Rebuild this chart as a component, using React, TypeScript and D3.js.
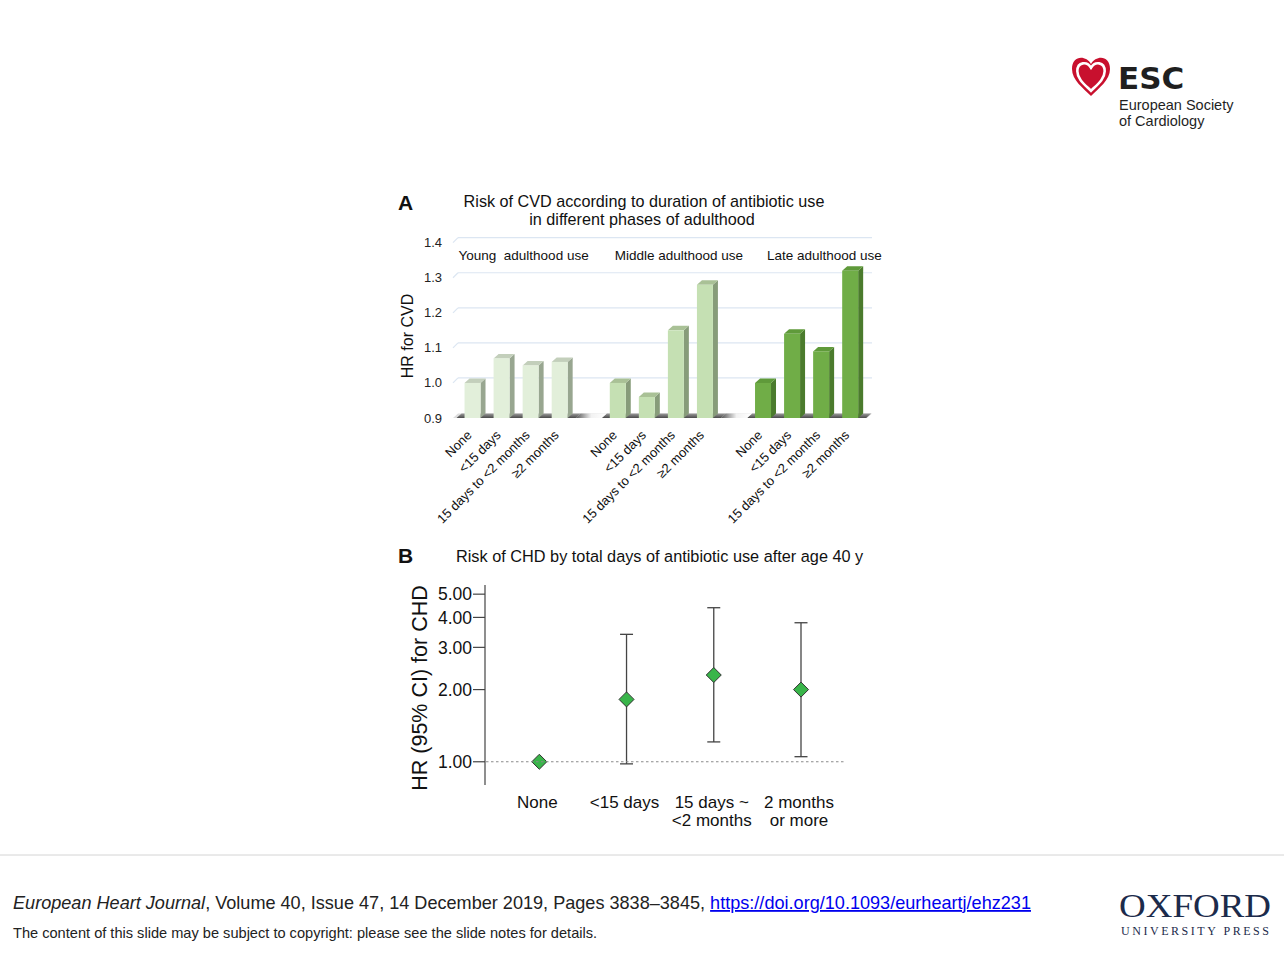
import React from "react";
import * as d3 from "d3";

// ---------- Panel A data ----------
const phases = ["Young  adulthood use", "Middle adulthood use", "Late adulthood use"];
const durationsA = ["None", "<15 days", "15 days to <2 months", "≥2 months"];
const youngHR = [1.0, 1.07, 1.05, 1.06];
const middleHR = [1.0, 0.96, 1.15, 1.28];
const lateHR = [1.0, 1.14, 1.09, 1.32];
const ticksA = [0.9, 1.0, 1.1, 1.2, 1.3, 1.4];

// ---------- Panel B data ----------
const categoriesB = ["None", "<15 days", "15 days ~|<2 months", "2 months|or more"];
const hrB = [1.0, 1.82, 2.3, 2.0];
const lowerB = [1.0, 0.98, 1.21, 1.05];
const upperB = [1.0, 3.4, 4.39, 3.8];
const ticksB = [1, 2, 3, 4, 5];

const FONT = "'Liberation Sans', Arial, Helvetica, sans-serif";
const SERIF = "'Liberation Serif', 'DejaVu Serif', serif";

const palette = [
  { front: "#e2efda", side: "#98a690", top: "#c3cfbb" },
  { front: "#c5e0b3", side: "#879c7a", top: "#a9c196" },
  { front: "#70ad47", side: "#4b7b2d", top: "#5f9a3a" },
];
// horizontal offset of each phase label from its group's first bar
const phaseLabelOffset = [-6, 5, 12];

export default function App() {
  const seriesA = [youngHR, middleHR, lateHR];

  // Panel A scales
  const slots = d3.range(14);
  const xA = d3.scaleBand<number>().domain(slots).range([458, 864.7]).paddingInner(0.45).paddingOuter(0.225);
  const yA = d3.scaleLinear().domain([0.9, 1.4]).range([418, 242.7]);
  const bw = xA.bandwidth();
  const dx = 5;
  const dy = -4.5;
  const base = yA(0.9);

  // Panel B scales
  const xB = d3.scalePoint<string>().domain(categoriesB).range([539.3, 801]);
  const yB = d3.scaleLog().domain([0.8, 5.46]).range([785, 585]);
  const diamond = (cx: number, cy: number, r: number) =>
    `M${cx},${cy - r}L${cx + r},${cy}L${cx},${cy + r}L${cx - r},${cy}Z`;

  const heartPath = (cx: number, top: number, s: number) => {
    const p = d3.path();
    p.moveTo(cx, top + 8 * s);
    p.bezierCurveTo(cx - 5 * s, top - 1 * s, cx - 19 * s, top - 1 * s, cx - 19 * s, top + 13 * s);
    p.bezierCurveTo(cx - 19 * s, top + 24 * s, cx - 8 * s, top + 32 * s, cx, top + 40 * s);
    p.bezierCurveTo(cx + 8 * s, top + 32 * s, cx + 19 * s, top + 24 * s, cx + 19 * s, top + 13 * s);
    p.bezierCurveTo(cx + 19 * s, top - 1 * s, cx + 5 * s, top - 1 * s, cx, top + 8 * s);
    p.closePath();
    return p.toString();
  };

  return (
    <svg
      width={1284}
      height={953}
      style={{ position: "absolute", left: 0, top: 0, background: "#ffffff" }}
      fontFamily={FONT}
    >
      <defs>
        <linearGradient id="floorGrad" x1="0" y1="0" x2="0" y2="1">
          <stop offset="0" stopColor="#9a9a9a" />
          <stop offset="1" stopColor="#4a4a4a" />
        </linearGradient>
        <linearGradient id="gapGrad" x1="0" y1="0" x2="1" y2="0">
          <stop offset="0" stopColor="#555" />
          <stop offset="0.5" stopColor="#f2f2f2" />
          <stop offset="1" stopColor="#ffffff" />
        </linearGradient>
      </defs>

      {/* ---------- ESC logo ---------- */}
      <path d={heartPath(1091, 56, 1)} fill="#c8102e" />
      <path d={heartPath(1091, 62, 0.72)} fill="none" stroke="#ffffff" strokeWidth={2.6} />
      <path d={heartPath(1091, 66, 0.55)} fill="#c8102e" />
      <text x={1118} y={89} fontSize={31} fontWeight="bold" fill="#1f1f1f" fontFamily="'DejaVu Sans', 'Liberation Sans', sans-serif">
        ESC
      </text>
      <text x={1119} y={110} fontSize={14.5} fill="#1f1f1f">European Society</text>
      <text x={1119} y={126} fontSize={14.5} fill="#1f1f1f">of Cardiology</text>

      {/* ---------- Panel A ---------- */}
      <text x={398} y={210} fontSize={21} fontWeight="bold" fill="#111">A</text>
      <text x={644} y={207} fontSize={16.2} textAnchor="middle" fill="#111">
        Risk of CVD according to duration of antibiotic use
      </text>
      <text x={642} y={225} fontSize={16.2} textAnchor="middle" fill="#111">
        in different phases of adulthood
      </text>

      {/* gridlines on back wall */}
      {ticksA.slice(1).map((t) => (
        <g key={"g" + t}>
          <line x1={458} x2={872} y1={yA(t) - 5} y2={yA(t) - 5} stroke="#dce6f2" strokeWidth={1.2} />
          <line x1={458} x2={453} y1={yA(t) - 5} y2={yA(t)} stroke="#dce6f2" strokeWidth={1.2} />
        </g>
      ))}
      {ticksA.map((t) => (
        <text key={"t" + t} x={442} y={yA(t)} dy="0.35em" fontSize={13} textAnchor="end" fill="#222">
          {t.toFixed(1)}
        </text>
      ))}
      <text transform={`translate(413,336) rotate(-90)`} fontSize={16} textAnchor="middle" fill="#111">
        HR for CVD
      </text>

      {/* floor */}
      <path d={`M${453},${base}L${867},${base}L${872},${base + dy}L${458},${base + dy}Z`} fill="#dcdcdc" />
      {phases.map((ph, g) => {
        const x0 = xA(g * 5)! - 8;
        const x1 = xA(g * 5 + 3)! + bw + 8;
        return (
          <path
            key={"fl" + g}
            d={`M${x0},${base}L${x1},${base}L${x1 + dx},${base + dy}L${x0 + dx},${base + dy}Z`}
            fill="url(#floorGrad)"
          />
        );
      })}
      {[0, 1].map((g) => {
        const x0 = xA(g * 5 + 3)! + bw + 8;
        const x1 = xA(g * 5 + 5)! - 8;
        return (
          <path
            key={"gap" + g}
            d={`M${x0},${base}L${x1},${base}L${x1 + dx},${base + dy}L${x0 + dx},${base + dy}Z`}
            fill="url(#gapGrad)"
          />
        );
      })}

      {/* bars */}
      {seriesA.map((vals, g) =>
        vals.map((v, i) => {
          const x = xA(g * 5 + i)!;
          const yt = yA(v);
          const c = palette[g];
          return (
            <g key={`b${g}-${i}`}>
              <path
                d={`M${x + bw},${yt}L${x + bw + dx},${yt + dy}L${x + bw + dx},${base + dy}L${x + bw},${base}Z`}
                fill={c.side}
              />
              <path
                d={`M${x},${yt}L${x + dx},${yt + dy}L${x + bw + dx},${yt + dy}L${x + bw},${yt}Z`}
                fill={c.top}
              />
              <rect x={x} y={yt} width={bw} height={base - yt} fill={c.front} />
            </g>
          );
        })
      )}

      {/* phase labels */}
      {phases.map((ph, g) => (
        <text
          key={"ph" + g}
          x={xA(g * 5)! + phaseLabelOffset[g]}
          y={260}
          fontSize={13.5}
          fill="#111"
          style={{ whiteSpace: "pre" }}
        >
          {ph}
        </text>
      ))}

      {/* x labels rotated */}
      {seriesA.map((vals, g) =>
        durationsA.map((d, i) => {
          const cx = xA(g * 5 + i)! + bw / 2;
          return (
            <text
              key={`xl${g}-${i}`}
              transform={`translate(${cx},${436}) rotate(-45)`}
              fontSize={13}
              textAnchor="end"
              fill="#111"
            >
              {d}
            </text>
          );
        })
      )}

      {/* ---------- Panel B ---------- */}
      <text x={398} y={563} fontSize={21} fontWeight="bold" fill="#111">B</text>
      <text x={456} y={562} fontSize={16.3} fill="#111">
        Risk of CHD by total days of antibiotic use after age 40 y
      </text>

      <line x1={485} x2={485} y1={yB.range()[1]} y2={yB.range()[0]} stroke="#444" strokeWidth={1.2} />
      {ticksB.map((t) => (
        <g key={"bt" + t}>
          <line x1={473} x2={485} y1={yB(t)} y2={yB(t)} stroke="#444" strokeWidth={1.2} />
          <text x={472} y={yB(t)} dy="0.36em" fontSize={17.5} textAnchor="end" fill="#111">
            {t.toFixed(2)}
          </text>
        </g>
      ))}
      <text transform={`translate(427,688) rotate(-90)`} fontSize={21.5} textAnchor="middle" fill="#111">
        HR (95% CI) for CHD
      </text>

      {/* error bars */}
      {categoriesB.map((c, i) => {
        if (i === 0) return null;
        const x = xB(c)!;
        return (
          <g key={"eb" + i} stroke="#444" strokeWidth={1.3}>
            <line x1={x} x2={x} y1={yB(upperB[i])} y2={yB(lowerB[i])} />
            <line x1={x - 6.5} x2={x + 6.5} y1={yB(upperB[i])} y2={yB(upperB[i])} />
            <line x1={x - 6.5} x2={x + 6.5} y1={yB(lowerB[i])} y2={yB(lowerB[i])} />
          </g>
        );
      })}
      {categoriesB.map((c, i) => (
        <path key={"dm" + i} d={diamond(xB(c)!, yB(hrB[i]), 7.5)} fill="#39b54a" stroke="#333" strokeWidth={1} />
      ))}
      <line x1={486} x2={844} y1={yB(1)} y2={yB(1)} stroke="#8a8a8a" strokeWidth={1} strokeDasharray="2.5,2.5" />

      {categoriesB.map((c, i) => {
        const lines = c.split("|");
        return (
          <text key={"xb" + i} x={xB(c)! - 2} y={808} fontSize={17} textAnchor="middle" fill="#111">
            {lines.map((l, k) => (
              <tspan key={k} x={xB(c)! - 2} dy={k === 0 ? 0 : 18}>
                {l}
              </tspan>
            ))}
          </text>
        );
      })}

      {/* ---------- Footer ---------- */}
      <line x1={0} x2={1284} y1={855} y2={855} stroke="#d4d4d4" strokeWidth={1} />
      <text x={13} y={909} fontSize={18.1} fill="#222">
        <tspan fontStyle="italic">European Heart Journal</tspan>
        <tspan>, Volume 40, Issue 47, 14 December 2019, Pages 3838–3845, </tspan>
        <tspan fill="#0000ee" textDecoration="underline">https://doi.org/10.1093/eurheartj/ehz231</tspan>
      </text>
      <text x={13} y={938} fontSize={14.6} fill="#222">
        The content of this slide may be subject to copyright: please see the slide notes for details.
      </text>

      <text
        x={1119}
        y={917}
        fontSize={33}
        textLength={152}
        lengthAdjust="spacingAndGlyphs"
        fill="#1c2b4b"
        fontFamily={SERIF}
      >
        OXFORD
      </text>
      <text
        x={1121}
        y={935}
        fontSize={12}
        textLength={148}
        lengthAdjust="spacing"
        fill="#1c2b4b"
        fontFamily={SERIF}
      >
        UNIVERSITY PRESS
      </text>
    </svg>
  );
}
